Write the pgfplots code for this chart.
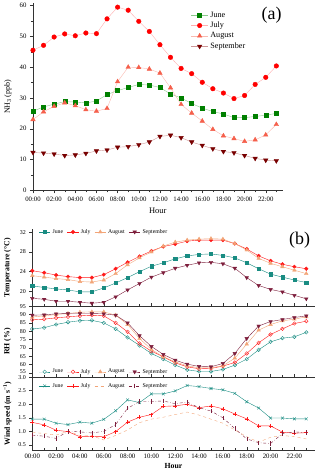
\documentclass[border=0pt]{standalone}
\usepackage{pgfplots}
\pgfplotsset{compat=1.18}
\usepackage{pgfplotstable}
\usepackage{fontspec}
\setmainfont{Liberation Serif}

% panel (a) colours
\definecolor{gJun}{RGB}{0,128,0}
\definecolor{gJunL}{RGB}{140,200,140}
\definecolor{rJul}{RGB}{255,0,0}
\definecolor{rJulL}{RGB}{255,175,175}
\definecolor{oAug}{RGB}{245,95,75}
\definecolor{oAugL}{RGB}{250,185,175}
\definecolor{mSep}{RGB}{120,0,0}
\definecolor{mSepL}{RGB}{205,150,150}
% panel (b) colours
\definecolor{tJun}{RGB}{25,140,130}
\definecolor{bJul}{RGB}{255,25,25}
\definecolor{bAug}{RGB}{242,165,120}
\definecolor{bSep}{RGB}{125,30,60}

\pgfplotstableread{
h jun jul aug sep
0 25.7 45.5 23.0 12.3
1 27.1 47.1 25.5 12.1
2 28.0 49.8 27.3 11.8
3 28.8 50.8 28.4 11.3
4 28.7 50.2 27.5 11.5
5 28.4 51.1 26.2 12.0
6 29.0 50.9 25.7 12.8
7 31.1 55.7 26.6 13.1
8 32.4 59.5 35.3 14.0
9 33.4 58.5 40.0 14.2
10 34.4 54.9 39.9 14.8
11 34.2 51.6 39.4 15.7
12 33.4 47.3 38.1 17.5
13 31.3 43.2 33.3 17.9
14 30.0 39.6 27.9 17.1
15 28.2 37.9 25.1 15.7
16 26.7 35.1 22.5 14.6
17 25.6 33.0 19.8 13.5
18 24.8 31.6 17.7 12.6
19 23.6 29.8 16.8 12.2
20 23.6 30.8 15.9 11.3
21 24.0 34.4 16.4 10.4
22 24.4 36.7 18.0 9.8
23 25.0 40.4 21.4 9.6
}\nh

\pgfplotstableread{
h jun jul aug sep
0 21.1 24.2 23.2 18.6
1 20.8 23.8 22.9 18.4
2 20.5 23.3 22.6 18.0
3 20.3 23.0 22.4 18.0
4 19.9 22.8 22.0 17.8
5 19.9 22.8 21.9 17.6
6 20.7 23.4 22.3 17.8
7 21.7 24.6 23.6 18.9
8 22.8 25.9 25.4 20.3
9 24.0 27.1 26.8 21.6
10 25.1 28.2 28.0 22.9
11 25.8 29.1 29.2 23.8
12 26.6 29.6 30.0 24.7
13 27.2 30.2 30.4 25.3
14 27.5 30.4 30.6 25.8
15 27.6 30.4 30.7 25.9
16 27.3 30.4 30.6 25.6
17 26.8 29.7 29.7 24.7
18 25.8 28.6 28.4 22.8
19 24.6 27.2 26.7 21.2
20 23.5 26.2 25.7 20.4
21 22.9 25.5 25.0 19.9
22 22.3 25.0 24.3 19.2
23 21.8 24.6 23.6 18.5
}\temp

\pgfplotstableread{
h jun jul aug sep
0 81.3 86.8 88.5 89.6
1 82.1 87.2 89.2 89.8
2 84.0 88.0 90.0 90.4
3 85.4 88.6 90.6 90.6
4 86.3 89.2 91.4 90.6
5 86.5 89.6 91.6 90.6
6 85.0 89.2 91.6 90.4
7 81.4 85.0 89.6 89.6
8 76.2 79.6 84.0 85.0
9 71.4 72.6 75.6 77.3
10 66.6 68.0 69.0 70.8
11 63.2 64.6 64.6 66.0
12 59.6 61.0 61.6 62.6
13 56.8 58.6 59.2 60.2
14 55.8 57.4 58.0 58.8
15 55.8 57.6 58.0 58.6
16 57.0 59.0 59.2 60.6
17 59.6 61.2 63.8 66.6
18 63.2 66.6 72.2 75.6
19 68.8 73.0 80.6 83.1
20 73.6 78.0 84.0 85.8
21 75.8 81.4 86.2 87.0
22 76.6 84.6 87.2 88.2
23 79.3 86.0 88.6 89.2
}\rh

\pgfplotstableread{
h jun jul aug sep
0 1.45 1.33 0.96 0.86
1 1.45 1.24 0.92 0.82
2 1.30 1.04 0.86 0.74
3 1.25 0.99 1.00 1.00
4 1.34 0.80 0.85 0.98
5 1.30 0.81 0.84 0.94
6 1.44 0.80 0.68 1.00
7 1.76 0.99 0.85 1.25
8 2.16 1.34 1.05 1.85
9 2.06 1.52 1.32 2.10
10 2.38 1.62 1.45 2.10
11 2.38 1.92 1.52 2.12
12 2.49 1.94 1.62 2.02
13 2.69 2.00 1.71 2.08
14 2.65 1.87 1.60 1.87
15 2.58 1.94 1.45 1.75
16 2.53 1.83 1.30 1.50
17 2.40 1.64 1.05 1.10
18 2.09 1.46 0.80 0.72
19 1.86 1.20 0.60 0.58
20 1.49 1.20 0.78 0.55
21 1.49 0.97 0.85 0.92
22 1.46 0.93 0.80 0.98
23 1.46 0.95 0.72 0.95
}\wind

\pgfplotsset{
  hourly/.style={
    scale only axis, xmin=0,
    xtick={0,2,...,22}, minor xtick={1,3,...,23},
    axis x line*=bottom, axis y line*=left,
    axis line style={black!80}, tick style={black!80, thin},
    major tick length=3bp, minor tick length=2bp,
    /pgf/number format/assume math mode=true,
    tick label style={font=\fontsize{6.8}{8}\selectfont},
    legend cell align=left,
  },
  panelb/.style={
    hourly, width=282.7bp, xmax=23.7,
    xtick align=inside, ytick align=outside,
    yticklabel style={font=\fontsize{6}{7}\selectfont},
    ylabel style={font=\bfseries\fontsize{7.8}{9}\selectfont,
      at={(axis description cs:-0.088,0.5)}, anchor=center},
    legend columns=4,
    legend style={draw=none, fill=none, font=\fontsize{5.8}{7}\selectfont,
      /tikz/every even column/.append style={column sep=2pt},
      /tikz/every odd column/.append style={column sep=0pt}},
    legend image code/.code={\draw[mark repeat=2,mark phase=2]
      plot coordinates {(0cm,0cm) (0.2cm,0cm) (0.4cm,0cm)};},
    every axis plot/.append style={thin},
  },
}

\begin{document}
\begin{tikzpicture}
\path (0,0) rectangle (320bp,-472bp);

% ---- panel (a): NH3 ----
\begin{axis}[hourly,
  at={(33bp,-190bp)}, anchor=south west,
  width=250bp, height=187.1bp,
  xmax=23.6, ymin=0, ymax=60.7,
  ytick={0,10,...,60}, minor ytick={5,15,...,55},
  tick align=outside,
  xticklabels={00:00,02:00,04:00,06:00,08:00,10:00,12:00,14:00,16:00,18:00,20:00,22:00},
  xlabel={Hour}, ylabel={NH\textsubscript{3} (ppb)},
  xlabel style={font=\fontsize{8.5}{9}\selectfont},
  ylabel style={font=\fontsize{8}{9}\selectfont, at={(axis description cs:-0.1,0.5)}, anchor=center},
  legend style={at={(0.62,0.978)}, anchor=north west, draw=none, fill=none,
    font=\fontsize{8.2}{9}\selectfont, row sep=-0.6pt},
]
\addplot[gJunL, thin, mark=square*, mark size=2bp, mark options={draw=gJun, fill=gJun}] table[x=h,y=jun]{\nh};
\addlegendentry{June}
\addplot[rJulL, thin, mark=*, mark size=2.3bp, mark options={draw=rJul, fill=rJul}] table[x=h,y=jul]{\nh};
\addlegendentry{July}
\addplot[oAugL, thin, mark=triangle*, mark size=2.6bp, mark options={draw=oAug, fill=oAug}] table[x=h,y=aug]{\nh};
\addlegendentry{August}
\addplot[mSepL, thin, mark=triangle*, mark size=2.6bp, mark options={draw=mSep, fill=mSep, rotate=180}] table[x=h,y=sep]{\nh};
\addlegendentry{September}
\node[font=\fontsize{18}{20}\selectfont] at (rel axis cs:0.956,0.935) {(a)};
\end{axis}

% ---- panel (b): temperature ----
\begin{axis}[panelb,
  at={(32.3bp,-306bp)}, anchor=south west, height=77bp,
  ymin=17, ymax=32.6, ytick={20,24,28,32},
  xticklabels={},
  ylabel={Temperature (°C)},
  legend style={at={(0.012,0.965)}, anchor=west},
]
\addplot[tJun, mark=square*, mark size=1.6bp, mark options={fill=tJun}] table[x=h,y=jun]{\temp};
\addlegendentry{June}
\addplot[bJul, mark=*, mark size=1.8bp, mark options={fill=bJul}] table[x=h,y=jul]{\temp};
\addlegendentry{July}
\addplot[bAug, mark=triangle*, mark size=2.1bp, mark options={fill=bAug}] table[x=h,y=aug]{\temp};
\addlegendentry{August}
\addplot[bSep, mark=triangle*, mark size=2.1bp, mark options={fill=bSep, rotate=180}] table[x=h,y=sep]{\temp};
\addlegendentry{September}
\node[font=\fontsize{18}{20}\selectfont] at (rel axis cs:0.947,0.857) {(b)};
\end{axis}

% ---- panel (b): RH ----
\begin{axis}[panelb,
  at={(32.3bp,-377bp)}, anchor=south west, height=71bp,
  ymin=52.4, ymax=95, ytick={55,60,...,95},
  yticklabels={\raisebox{1.6bp}{55},60,65,70,75,80,85,90,95},
  xticklabels={},
  ylabel={RH (\%)},
  legend style={at={(0.012,0.075)}, anchor=west},
]
\addplot[tJun, mark=o, mark size=1.8bp, mark options={fill=white}] table[x=h,y=jun]{\rh};
\addlegendentry{June}
\addplot[bJul, mark=o, mark size=1.8bp, mark options={fill=white}] table[x=h,y=jul]{\rh};
\addlegendentry{July}
\addplot[bAug, mark=triangle*, mark size=2.1bp, mark options={fill=bAug}] table[x=h,y=aug]{\rh};
\addlegendentry{August}
\addplot[bSep, mark=triangle*, mark size=2.1bp, mark options={fill=bSep, rotate=180}] table[x=h,y=sep]{\rh};
\addlegendentry{September}
\end{axis}

% ---- panel (b): wind speed ----
\begin{axis}[panelb,
  at={(32.3bp,-450bp)}, anchor=south west, height=73bp,
  ymin=0.31, ymax=3.0, ytick={0.5,1.0,...,3.0},
  yticklabels={0.5,1.0,1.5,2.0,2.5,\raisebox{-1.6bp}{3.0}},
  xticklabels={00:00,02:00,04:00,06:00,08:00,10:00,12:00,14:00,16:00,18:00,20:00,22:00},
  xlabel={Hour}, xlabel style={font=\bfseries\fontsize{7.8}{9}\selectfont, yshift=2bp},
  ylabel={Wind speed (m s\textsuperscript{−1})},
  legend style={at={(0.012,0.88)}, anchor=west},
]
\addplot[tJun, mark=x, mark size=2bp] table[x=h,y=jun]{\wind};
\addlegendentry{June}
\addplot[bJul, mark=+, mark size=2bp] table[x=h,y=jul]{\wind};
\addlegendentry{July}
\addplot[bAug, dashed] table[x=h,y=aug]{\wind};
\addlegendentry{August}
\addplot[bSep, dash dot, mark=|, mark size=2.2bp, mark options={solid}] table[x=h,y=sep]{\wind};
\addlegendentry{September}
\end{axis}
\end{tikzpicture}
\end{document}
